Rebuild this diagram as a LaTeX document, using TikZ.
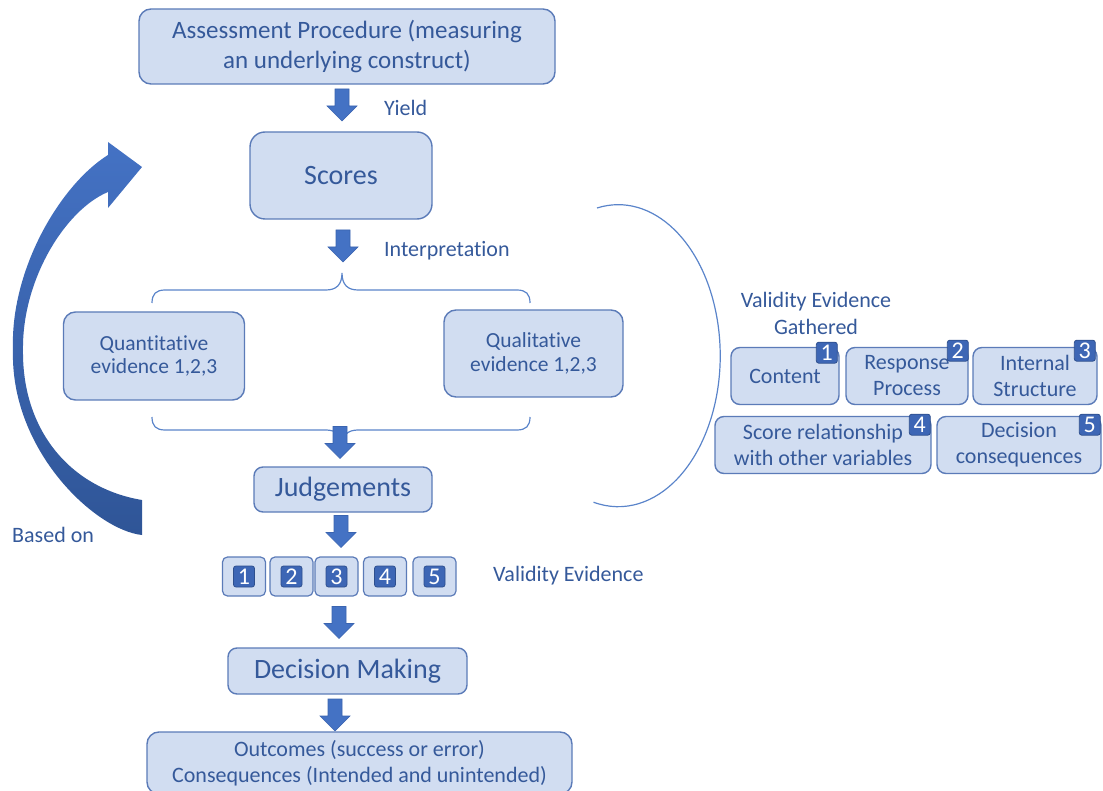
\documentclass[tikz,border=0pt]{standalone}
\usepackage{fontspec}
\setmainfont{Carlito}
\usetikzlibrary{calc}
% keeps "t" and "i" as separate glyphs
\newcommand\tsep{\kern0pt}

\definecolor{boxfill}{HTML}{D1DDF1}
\definecolor{boxline}{HTML}{5B7BB8}
\definecolor{ink}{HTML}{35599A}
\definecolor{arrowblue}{HTML}{4472C4}
\definecolor{arrowedge}{HTML}{3A64B0}
\definecolor{deepblue}{HTML}{2F5597}
\definecolor{linkblue}{HTML}{5A84CA}
\definecolor{badgefill}{HTML}{3D66B5}
\definecolor{badgeline}{HTML}{2E4F8E}

\begin{document}
\begin{tikzpicture}[x=1pt,y=-1pt,
  box/.style={draw=boxline, line width=1.4pt, fill=boxfill, rounded corners=12pt,
    text=ink, align=center, inner sep=0pt},
  smallbox/.style={box, rounded corners=9pt, font=\fontsize{22}{26}\selectfont},
  numbox/.style={draw=boxline, line width=1.2pt, fill=boxfill, rounded corners=5pt,
    minimum width=43pt, minimum height=39pt, inner sep=0pt},
  badge/.style={fill=badgefill, draw=badgeline, line width=0.8pt, rounded corners=2.5pt,
    minimum width=21pt, minimum height=21pt, inner sep=0pt, text=white,
    font=\fontsize{24}{24}\selectfont},
  tag/.style={text=ink, inner sep=0pt, align=center, font=\fontsize{22}{27}\selectfont},
  bracket/.style={draw=linkblue, line width=1.2pt},
  flowarrow/.pic={
    \filldraw[fill=arrowblue, draw=arrowedge, line width=0.6pt]
      (-7,-16) -- (7,-16) -- (7,1) -- (15,1) -- (0,16) -- (-15,1) -- (-7,1) -- cycle;
  }
]
\useasboundingbox (0,0) rectangle (1103,791);

% main column of boxes
\node[box, minimum width=416pt, minimum height=75pt, font=\fontsize{25}{30}\selectfont]
  (assess) at (347,46.5) {Assessment Procedure (measuring\\an underlying construct)};
\node[box, rounded corners=15pt, minimum width=182pt, minimum height=87pt,
  font=\fontsize{28}{32}\selectfont] (scores) at (341,175.5) {Scores};
\node[box, minimum width=181pt, minimum height=88pt, font=\fontsize{21.5}{23.5}\selectfont]
  (quant) at (154,356) {Quant\tsep itat\tsep ive\\evidence 1,2,3};
\node[box, minimum width=179pt, minimum height=87pt, font=\fontsize{21.5}{23.5}\selectfont]
  (qual) at (533.5,353.5) {Qualitat\tsep ive\\evidence 1,2,3};
\node[box, rounded corners=9pt, minimum width=178pt, minimum height=45pt,
  font=\fontsize{28}{32}\selectfont] (judge) at (343,489.5) {Judgements};
\node[box, rounded corners=9pt, minimum width=239pt, minimum height=46pt,
  font=\fontsize{28}{32}\selectfont] (decide) at (347.5,671) {Decision Making};
\node[box, minimum width=425pt, minimum height=62pt, font=\fontsize{22}{26.5}\selectfont]
  (outcome) at (359.5,763) {Outcomes (success or error)\\Consequences (Intended and unintended)};

% row of numbered evidence sources
\foreach \i/\x in {1/244,2/291.5,3/336.5,4/385,5/434.5}{
  \node[numbox] (nb\i) at (\x,576.5) {};
  \node[badge] (nbb\i) at (nb\i.center) {\i};
}

% braces grouping the two kinds of evidence
\coordinate (braceTop) at (342,273);
\coordinate (braceBot) at (342,446);
\draw[bracket] (152,303) .. controls (152,294) and (156,290) .. (165,290) -- (326,290)
  .. controls (336,290) and (342,285) .. (braceTop)
  .. controls (342,285) and (348,290) .. (358,290) -- (517,290)
  .. controls (526,290) and (530,294) .. (530,303);
\draw[bracket] (152,417) .. controls (152,426) and (156,430) .. (165,430) -- (326,430)
  .. controls (336,430) and (342,435) .. (braceBot)
  .. controls (342,435) and (348,430) .. (358,430) -- (517,430)
  .. controls (526,430) and (530,426) .. (530,417);

% block arrows down the column
\pic at (342,105) {flowarrow};
\pic at (343,246) {flowarrow};
\pic at (340,442.5) {flowarrow};
\pic at (341,531.5) {flowarrow};
\pic at (339,622.5) {flowarrow};
\pic at (335,715) {flowarrow};

% labels beside the arrows
\node[tag, anchor=west] (yield) at (384,108) {Yield};
\node[tag, anchor=west] (interp) at (384,251) {Interpretat\tsep ion};
\node[tag, anchor=west] (vevid) at (493,576) {Validity Evidence};
\node[tag, anchor=west] (based) at (12,535) {Based on};

% curved feedback arrow on the left, thin in the middle and wide at both ends
\path[top color=arrowblue, bottom color=deepblue]
  (142,535) .. controls (95,530) and (10,450) .. (13,350)
  .. controls (10,270) and (60,185) .. (108,155)
  -- (108,142) -- (142,167) -- (108,208) -- (108,192)
  .. controls (65,210) and (22,280) .. (23,350)
  .. controls (22,430) and (70,488) .. (142,500) -- cycle;

% arc collecting the validity evidence
\draw[bracket] (597,208) arc[start angle=-102, end angle=104, x radius=102, y radius=151];

% sources of validity evidence
\node[tag] (gather) at (816,313.5) {Validity Evidence\\Gathered};
\node[smallbox, minimum width=108pt, minimum height=57pt] (content) at (785,376) {Content};
\node[smallbox, minimum width=122pt, minimum height=57pt] (resp) at (907,376) {Response\\Process};
\node[smallbox, minimum width=124pt, minimum height=57pt] (intern) at (1035,376) {Internal\\Structure};
\node[smallbox, minimum width=216pt, minimum height=57pt] (relat) at (823,445) {Score relationship\\with other variables};
\node[smallbox, minimum width=164pt, minimum height=57pt] (conseq) at (1019,445) {Decision\\consequences};

\node[badge, anchor=north east] (b1) at ([shift={(-2,-5)}]content.north east) {1};
\node[badge, anchor=north east] (b2) at ([shift={(0,-7)}]resp.north east) {2};
\node[badge, anchor=north east] (b3) at ([shift={(-2,-7)}]intern.north east) {3};
\node[badge, anchor=north east] (b4) at ([shift={(-1,-2)}]relat.north east) {4};
\node[badge, anchor=north east] (b5) at ([shift={(-1,-2)}]conseq.north east) {5};
\end{tikzpicture}
\end{document}
